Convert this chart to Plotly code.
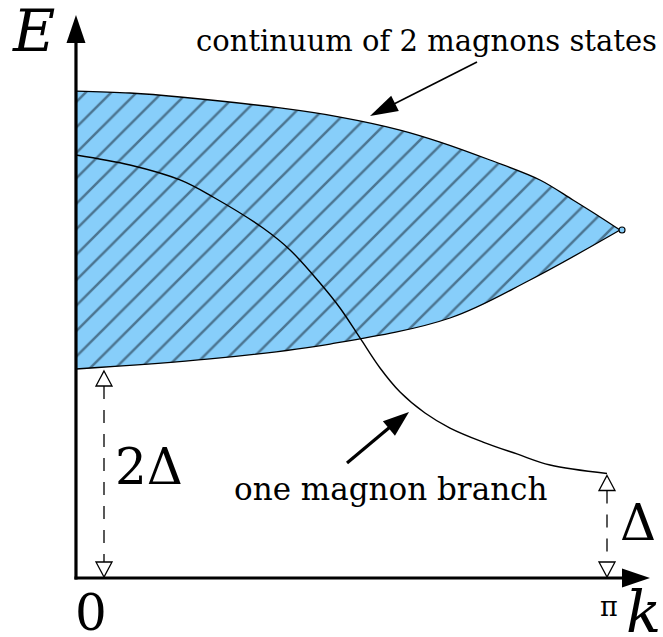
import math
import plotly.graph_objects as go

# ---- data (k in rad, E in units of the gap Δ) ----
# upper edge of the two-magnon continuum
k_upper = [-0.175, 0.162, 0.475, 1.099, 1.474, 1.849, 2.099, 2.411, 2.723, 2.929, 3.098, 3.223]
E_upper = [4.660, 4.641, 4.603, 4.498, 4.411, 4.287, 4.172, 4.000, 3.809, 3.617, 3.455, 3.330]
# lower edge of the two-magnon continuum
k_lower = [-0.175, 0.662, 1.412, 2.161, 2.661, 3.223]
E_lower = [2.000, 2.096, 2.239, 2.488, 2.852, 3.330]
# one-magnon dispersion
k_branch = [-0.175, 0.162, 0.475, 0.681, 0.993, 1.162, 1.349, 1.474, 1.599, 1.724,
            1.849, 2.005, 2.161, 2.367, 2.579, 2.786, math.pi]
E_branch = [4.048, 3.952, 3.809, 3.646, 3.349, 3.139, 2.823, 2.584, 2.297, 2.010,
            1.780, 1.579, 1.435, 1.301, 1.187, 1.081, 1.000]

tick_k = [0, math.pi]
tick_labels = ["0", "π"]
gap_labels = ["2Δ", "Δ"]

# ---- page geometry ----
W, H = 663, 637
K_PX0, K_PX_PER = 104.0, 503.0 / math.pi
E_PX0, E_PX_PER = 578.0, 104.5

def kx(k):
    return K_PX0 + k * K_PX_PER

def ey(e):
    return E_PX0 - e * E_PX_PER

def px2k(x):
    return (x - K_PX0) / K_PX_PER

def py2e(y):
    return (E_PX0 - y) / E_PX_PER

FONT = "DejaVu Serif"
FILL = "#87cefa"

fig = go.Figure()

# continuum: lower edge, then upper edge filled down to it
fig.add_trace(go.Scatter(
    x=k_lower, y=E_lower, mode="lines",
    line=dict(color="black", width=1.3, shape="spline"),
    hoverinfo="skip"))
fig.add_trace(go.Scatter(
    x=k_upper, y=E_upper, mode="lines",
    line=dict(color="black", width=1.3, shape="spline"),
    fill="tonexty", fillcolor=FILL,
    fillpattern=dict(shape="/", size=18, solidity=0.14,
                     fgcolor="#0f1c28", bgcolor=FILL),
    hoverinfo="skip"))
# small loop at the meeting point of the two edges
fig.add_trace(go.Scatter(
    x=[k_upper[-1] + px2k(2) - px2k(0)], y=[E_upper[-1]], mode="markers",
    marker=dict(symbol="circle", size=6, color=FILL,
                line=dict(color="black", width=1.1)),
    hoverinfo="skip"))
# one-magnon branch
fig.add_trace(go.Scatter(
    x=k_branch, y=E_branch, mode="lines",
    line=dict(color="black", width=1.4, shape="spline"),
    hoverinfo="skip"))

shapes = []
annotations = []

def seg(x0, y0, x1, y1, width, dash=None):
    line = dict(color="black", width=width)
    if dash:
        line["dash"] = dash
    shapes.append(dict(type="line", xref="x", yref="y",
                       x0=px2k(x0), y0=py2e(y0), x1=px2k(x1), y1=py2e(y1),
                       line=line, layer="above"))

def head(tx, ty, dx, dy, length, width, fill="black", lw=0):
    n = math.hypot(dx, dy)
    ux, uy = dx / n, dy / n
    bx, by = tx - ux * length, ty - uy * length
    px_, py_ = -uy * width / 2, ux * width / 2
    pts = [(tx, ty), (bx + px_, by + py_), (bx - px_, by - py_)]
    path = "M " + " L ".join(f"{px2k(x):.5f},{py2e(y):.5f}" for x, y in pts) + " Z"
    shapes.append(dict(type="path", xref="x", yref="y", path=path,
                       fillcolor=fill, line=dict(color="black", width=lw),
                       layer="above"))

# axes with arrowheads
ax_x = kx(k_upper[0])
org_y = ey(0)
y_tip, x_tip = 15, 650
seg(ax_x, org_y + 1.5, ax_x, y_tip + 26, 3.2)
head(ax_x, y_tip, 0, -1, 28, 19)
seg(ax_x - 1.5, org_y, x_tip - 26, org_y, 3.2)
head(x_tip, org_y, 1, 0, 28, 19)

# gap markers: dashed double arrows with open heads
tops = [E_lower[0], E_branch[-1]]
for k, e_top in zip(tick_k, tops):
    x = kx(k)
    top_tip = ey(e_top) + 2
    bot_tip = org_y - 1
    head(x, top_tip, 0, -1, 15, 16, fill="white", lw=1.3)
    head(x, bot_tip, 0, 1, 15, 16, fill="white", lw=1.3)
    seg(x, top_tip + 15, x, bot_tip - 15, 1.3, dash="13px,11px")

# pointer arrows for the two labels
seg(477, 62, 392, 105, 1.6)
head(370, 116, -107, 54, 28, 17)
seg(347, 463, 390, 427, 3.2)
head(409, 412, 62, -51, 26, 19)

def label(text, x, y, size, italic=False):
    if italic:
        text = f"<i>{text}</i>"
    annotations.append(dict(
        text=text, xref="paper", yref="paper",
        x=x / W, y=1 - y / H, xanchor="center", yanchor="middle",
        showarrow=False,
        font=dict(family=FONT, size=size, color="black")))

label("E", 33, 31, 58, italic=True)
label("k", 643, 612, 58, italic=True)
label(tick_labels[0], kx(tick_k[0]) - 13, 613, 50)
label(tick_labels[1], kx(tick_k[1]) + 2, 606, 27)
label(gap_labels[0], 149, 467, 50)
label(gap_labels[1], 638, 523, 50)
label("continuum of 2 magnons states", 426, 41, 29)
label("one magnon branch", 390, 489, 31)

fig.update_layout(
    width=W, height=H, autosize=False,
    font=dict(family=FONT, color="black"),
    margin=dict(l=0, r=0, t=0, b=0, pad=0),
    paper_bgcolor="white", plot_bgcolor="white",
    showlegend=False,
    xaxis=dict(range=[px2k(0), px2k(W)], visible=False, fixedrange=True),
    yaxis=dict(range=[py2e(H), py2e(0)], visible=False, fixedrange=True),
    shapes=shapes, annotations=annotations,
)

fig.write_html("out.html", config={"displayModeBar": False})
